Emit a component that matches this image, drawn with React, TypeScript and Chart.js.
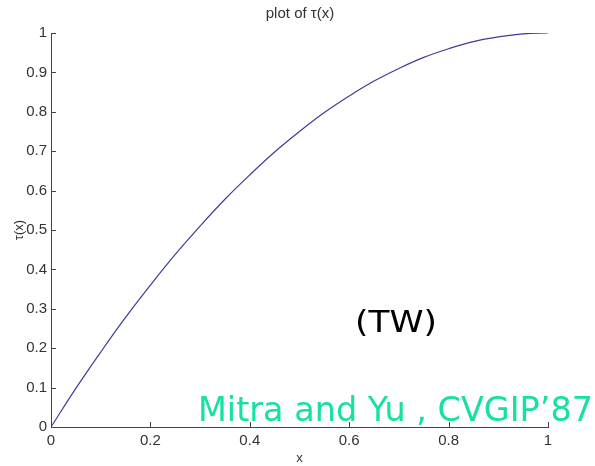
import React, { useEffect, useRef } from "react";
import { Chart, registerables } from "chart.js";

Chart.register(...registerables);

const xValues = [0, 0.05, 0.1, 0.15, 0.2, 0.25, 0.3, 0.35, 0.4, 0.45, 0.5, 0.55, 0.6, 0.65, 0.7, 0.75, 0.8, 0.85, 0.9, 0.95, 1];
const tauValues = [0, 0.098, 0.19, 0.278, 0.36, 0.438, 0.51, 0.578, 0.64, 0.698, 0.75, 0.798, 0.84, 0.878, 0.91, 0.938, 0.96, 0.978, 0.99, 0.998, 1];
const xTicks = [0, 0.2, 0.4, 0.6, 0.8, 1];
const yTicks = [0, 0.1, 0.2, 0.3, 0.4, 0.5, 0.6, 0.7, 0.8, 0.9, 1];

const titleText = "plot of \u03c4(x)";
const xTitle = "x";
const yTitle = "\u03c4(x)";
const noteTW = "(TW)";
const noteRef = "Mitra and Yu , CVGIP\u201987";

const overlayPlugin = {
  id: "overlay",
  afterDatasetsDraw(chart: any) {
    const { ctx, scales } = chart;
    const xs = scales.x;
    const ys = scales.y;
    ctx.save();
    // inward tick marks
    ctx.strokeStyle = "#444";
    ctx.lineWidth = 1;
    ctx.beginPath();
    for (const v of yTicks) {
      const py = Math.round(ys.getPixelForValue(v)) + 0.5;
      const px = xs.left;
      ctx.moveTo(px, py);
      ctx.lineTo(px + 5, py);
    }
    for (const v of xTicks) {
      const px = Math.round(xs.getPixelForValue(v)) + 0.5;
      const py = ys.bottom;
      ctx.moveTo(px, py);
      ctx.lineTo(px, py - 5);
    }
    ctx.stroke();

    // title
    ctx.font = '15px "Liberation Sans"';
    ctx.fillStyle = "#333";
    ctx.textAlign = "center";
    ctx.textBaseline = "middle";
    ctx.fillText(titleText, 300, 14);

    const drawFit = (text: string, left: number, baseline: number, width: number, size: number, color: string) => {
      ctx.font = `${size}px "DejaVu Sans"`;
      const w = ctx.measureText(text).width;
      ctx.save();
      ctx.translate(left, baseline);
      ctx.scale(width / w, 1);
      ctx.fillStyle = color;
      ctx.textAlign = "left";
      ctx.textBaseline = "alphabetic";
      ctx.fillText(text, 0, 0);
      ctx.restore();
    };
    drawFit(noteTW, 355, 332, 82, 30, "#000000");
    drawFit(noteRef, 198, 421, 395, 33, "#17e0a3");
    ctx.restore();
  },
};

export default function App() {
  const ref = useRef<HTMLCanvasElement | null>(null);
  useEffect(() => {
    if (!ref.current) return;
    const chart = new Chart(ref.current, {
      type: "line",
      data: {
        datasets: [
          {
            data: xValues.map((x, i) => ({ x, y: tauValues[i] })),
            borderColor: "#3c3c9c",
            borderWidth: 1.2,
            pointRadius: 0,
            tension: 0.4,
            fill: false,
          },
        ],
      },
      options: {
        animation: false,
        responsive: false,
        maintainAspectRatio: false,
        layout: { padding: { top: 33, right: 47, bottom: 0, left: 0 } },
        plugins: {
          legend: { display: false },
          tooltip: { enabled: false },
          title: { display: false },
        },
        scales: {
          x: {
            type: "linear",
            min: 0,
            max: 1,
            afterFit: (s: any) => { s.height = 39; },
            afterBuildTicks: (s: any) => { s.ticks = xTicks.map((v) => ({ value: v })); },
            grid: { display: false, drawTicks: false },
            border: { display: true, color: "#444", width: 1 },
            ticks: {
              color: "#333",
              font: { family: "Liberation Sans", size: 15 },
              padding: 5,
              maxRotation: 0,
              callback: (v: any) => String(v),
            },
            title: {
              display: true,
              text: xTitle,
              color: "#333",
              font: { family: "Liberation Sans", size: 13 },
              padding: { top: 0, bottom: 0 },
            },
          },
          y: {
            type: "linear",
            min: 0,
            max: 1,
            afterFit: (s: any) => { s.width = 51; },
            afterBuildTicks: (s: any) => { s.ticks = yTicks.map((v) => ({ value: v })); },
            grid: { display: false, drawTicks: false },
            border: { display: true, color: "#444", width: 1 },
            ticks: {
              color: "#333",
              font: { family: "Liberation Sans", size: 15 },
              padding: 4,
              callback: (v: any) => String(v),
            },
            title: {
              display: true,
              text: yTitle,
              color: "#333",
              font: { family: "Liberation Sans", size: 13 },
              padding: { top: 12, bottom: 0 },
            },
          },
        },
      },
      plugins: [overlayPlugin],
    });
    return () => chart.destroy();
  }, []);
  return (
    <div style={{ position: "fixed", left: 0, top: 0, width: 595, height: 466, background: "#fff" }}>
      <canvas ref={ref} width={595} height={466} style={{ width: 595, height: 466, display: "block" }} />
    </div>
  );
}
